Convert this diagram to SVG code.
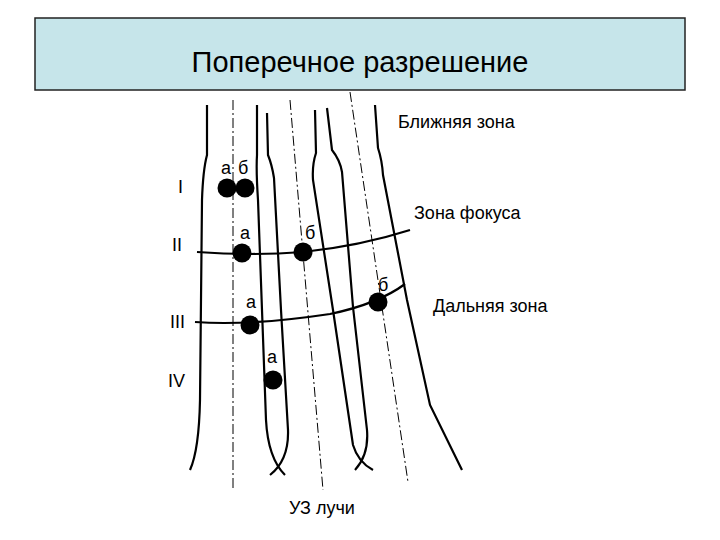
<svg xmlns="http://www.w3.org/2000/svg" width="720" height="540" viewBox="0 0 720 540">
<style>
.t{font-family:"Liberation Sans",Arial,sans-serif;font-size:18px;fill:#000}
.b{fill:none;stroke:#000;stroke-width:2.2}
.d{fill:none;stroke:#000;stroke-width:1;stroke-dasharray:10,3,2,3}
.dot{fill:#000}
</style>
<rect width="720" height="540" fill="#fff"/>
<g id="title"><rect x="35" y="18" width="650" height="72" fill="#c6e5ea" stroke="#222" stroke-width="1.5"/>
<text x="360" y="72" text-anchor="middle" class="t" style="font-size:29px">Поперечное разрешение</text></g>
<g id="connectors">
<line class="d" x1="233" y1="100" x2="233" y2="490"/>
<line class="d" x1="290" y1="100" x2="323" y2="490"/>
<line class="d" x1="350" y1="92" x2="408" y2="482"/>
<path class="b" d="M207,105 L207,155 Q203,170 202,200 L200,400 Q199,450 190,470"/>
<path class="b" d="M257,105 L257,155 Q256,170 258,200 L266,420 Q268,458 285,475"/>
<path class="b" d="M267,113 L268,155 Q272,165 274,178 L281,310 L288,430 Q289,460 270,475"/>
<path class="b" d="M315,110 L316,153 Q312,165 313,180 L333,310 L353,445 Q358,462 373,470"/>
<path class="b" d="M327,108 L332,150 Q340,160 342,172 L353,307 L367,430 Q369,455 355,470"/>
<path class="b" d="M375,105 L378,148 Q382,160 383,175 L407,300 L430,405 L462,470"/>
<path class="b" d="M197,252 Q250,256 303,252 Q360,246 410,230" stroke-width="1.8"/>
<path class="b" d="M195,322 Q250,326 330,314 Q378,304 405,284" stroke-width="1.8"/>
</g>
<g id="dots">
<circle class="dot" cx="227" cy="188" r="9.5"/><circle class="dot" cx="245" cy="188" r="9.5"/>
<circle class="dot" cx="242" cy="253" r="9.5"/><circle class="dot" cx="303" cy="252" r="9.5"/>
<circle class="dot" cx="378" cy="302" r="9.5"/><circle class="dot" cx="250" cy="325" r="9.5"/>
<circle class="dot" cx="273" cy="380" r="9.5"/>
</g>
<g id="labels">
<text class="t" x="221" y="174">а</text><text class="t" x="238" y="174">б</text>
<text class="t" x="240" y="239">а</text><text class="t" x="305" y="239">б</text>
<text class="t" x="378" y="291">б</text><text class="t" x="246" y="308">а</text>
<text class="t" x="267" y="363">а</text>
<text class="t" x="178" y="193">I</text><text class="t" x="172" y="251">II</text>
<text class="t" x="170" y="328">III</text><text class="t" x="168" y="387">IV</text>
<text class="t" x="398" y="128">Ближняя зона</text>
<text class="t" x="414" y="219">Зона фокуса</text>
<text class="t" x="433" y="312">Дальняя зона</text>
<text class="t" x="289" y="514">УЗ лучи</text>
</g>
</svg>
